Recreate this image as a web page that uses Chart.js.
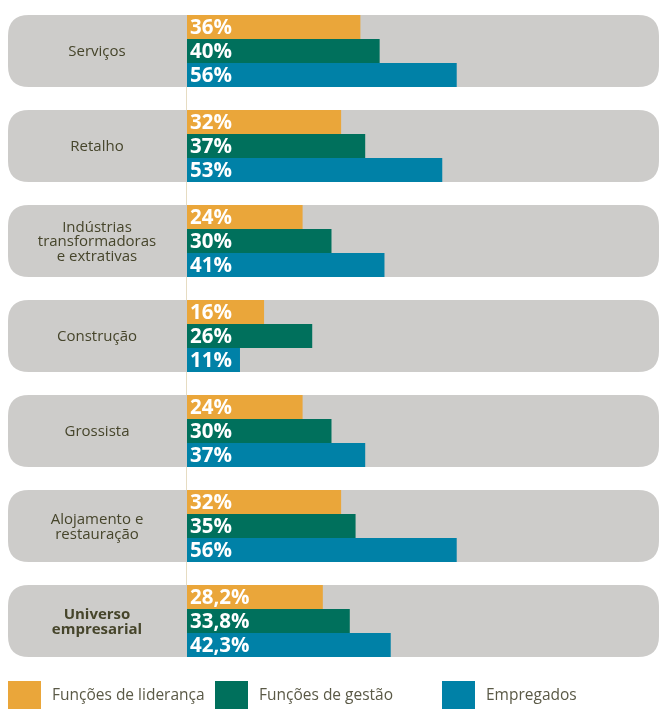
<!DOCTYPE html>
<html>
<head>
<meta charset="utf-8">
<script src="https://cdn.jsdelivr.net/npm/chart.js@4/dist/chart.umd.min.js"></script>
<style>
  html, body { margin: 0; padding: 0; background: #fff; }
  #wrap { width: 659px; height: 711px; position: relative; }
</style>
</head>
<body>
<div id="wrap"><canvas id="chart"></canvas></div>
<script>
// categories (multi-line labels as arrays)
const categories = [
    ["Serviços"],
    ["Retalho"],
    ["Indústrias", "transformadoras", "e extrativas"],
    ["Construção"],
    ["Grossista"],
    ["Alojamento e", "restauração"],
    ["Universo", "empresarial"]
];
const lideranca = [36, 32, 24, 16, 24, 32, 28.2];
const gestao = [40, 37, 30, 26, 30, 35, 33.8];
const empregados = [56, 53, 41, 11, 37, 56, 42.3];
const seriesNames = ["Funções de liderança", "Funções de gestão", "Empregados"];
const seriesColors = ["#EAA63A", "#00705C", "#0081A7"];

const GREY = "#CDCCCA";
const LABEL_COLOR = "#46452B";

// rounded rectangle helper
function roundRect(ctx, x, y, w, h, r) {
    ctx.beginPath();
    ctx.moveTo(x + r, y);
    ctx.lineTo(x + w - r, y);
    ctx.quadraticCurveTo(x + w, y, x + w, y + r);
    ctx.lineTo(x + w, y + h - r);
    ctx.quadraticCurveTo(x + w, y + h, x + w - r, y + h);
    ctx.lineTo(x + r, y + h);
    ctx.quadraticCurveTo(x, y + h, x, y + h - r);
    ctx.lineTo(x, y + r);
    ctx.quadraticCurveTo(x, y, x + r, y);
    ctx.closePath();
}

// grey panels + category labels behind the bars
const panelPlugin = {
    id: 'panels',
    beforeDatasetsDraw(chart) {
        const ctx = chart.ctx;
        const yScale = chart.scales.y;
        const area = chart.chartArea;
        const h = 72;
        ctx.save();
        // thin guide line at the bar base, only in the gaps between panels
        ctx.strokeStyle = "#E6DCC2";
        ctx.lineWidth = 1;
        for (let i = 0; i < categories.length - 1; i++) {
            const y1 = yScale.getPixelForValue(i) + h / 2;
            const y2 = yScale.getPixelForValue(i + 1) - h / 2;
            ctx.beginPath();
            ctx.moveTo(area.left - 0.5, y1);
            ctx.lineTo(area.left - 0.5, y2);
            ctx.stroke();
        }

        categories.forEach((lines, i) => {
            const cy = yScale.getPixelForValue(i);
            ctx.fillStyle = GREY;
            roundRect(ctx, 8, cy - h / 2, 651, h, 21);
            ctx.fill();

            const bold = i === categories.length - 1;
            ctx.fillStyle = LABEL_COLOR;
            ctx.font = (bold ? "bold " : "") + "15px 'Open Sans'";
            ctx.textAlign = "center";
            ctx.textBaseline = "middle";
            const lh = 14.5;
            const start = cy - (lines.length - 1) * lh / 2;
            lines.forEach((t, k) => ctx.fillText(t, 97, start + k * lh + 1));
        });
        ctx.restore();
    },
    afterDatasetsDraw(chart) {
        const ctx = chart.ctx;
        ctx.save();
        ctx.fillStyle = "#ffffff";
        ctx.font = "bold 20.5px 'Open Sans'";
        ctx.textAlign = "left";
        ctx.textBaseline = "middle";
        chart.data.datasets.forEach((ds, d) => {
            const meta = chart.getDatasetMeta(d);
            meta.data.forEach((bar, i) => {
                const v = ds.data[i];
                const txt = (Number.isInteger(v) ? String(v) : v.toFixed(1).replace(".", ",")) + "%";
                ctx.fillText(txt, bar.base + 3, bar.y + 1);
            });
        });

        // legend
        const legendX = [8, 215, 442];
        ctx.font = "15.5px 'Open Sans'";
        ctx.textBaseline = "middle";
        seriesNames.forEach((name, k) => {
            ctx.fillStyle = seriesColors[k];
            ctx.fillRect(legendX[k], 681, 33, 28);
            ctx.fillStyle = "#5A5946";
            ctx.fillText(name, legendX[k] + 44, 696);
        });
        ctx.restore();
    }
};

let ctx = document.getElementById('chart').getContext('2d');
new Chart(ctx, {
    type: 'bar',
    data: {
        labels: categories,
        datasets: [
            { label: seriesNames[0], data: lideranca, backgroundColor: seriesColors[0] },
            { label: seriesNames[1], data: gestao, backgroundColor: seriesColors[1] },
            { label: seriesNames[2], data: empregados, backgroundColor: seriesColors[2] }
        ]
    },
    options: {
        indexAxis: 'y',
        responsive: true,
        maintainAspectRatio: false,
        animation: false,
        layout: {
            padding: { left: 187, right: 0, top: 3.5, bottom: 42.5 }
        },
        datasets: {
            bar: {
                barPercentage: 1,
                categoryPercentage: 0.758,
                borderWidth: 0
            }
        },
        scales: {
            x: {
                display: false,
                min: 0,
                max: 98
            },
            y: {
                display: false
            }
        },
        plugins: {
            legend: { display: false },
            tooltip: { enabled: false }
        }
    },
    plugins: [panelPlugin]
});
</script>
</body>
</html>
